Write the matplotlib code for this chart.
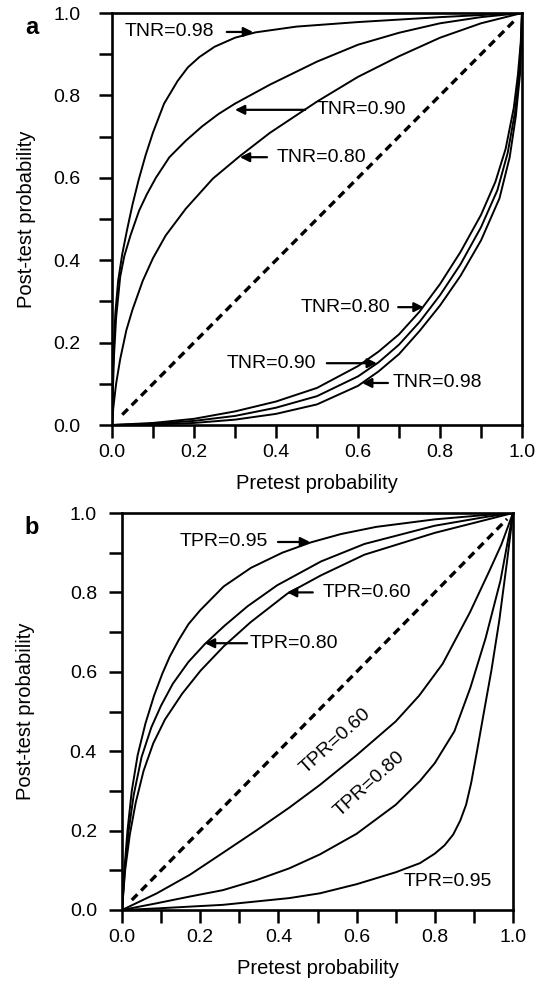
import matplotlib.pyplot as plt
import numpy as np

plt.rcParams['font.family'] = ['Liberation Sans', 'DejaVu Sans']

# ---- panel a : post-test probability for several TNR values ----
a_labels = ["TNR=0.98", "TNR=0.90", "TNR=0.80"]

# positive test (above the diagonal)
a_pos98_x = [0, 0.003, 0.008, 0.015, 0.025, 0.037, 0.05, 0.065, 0.082, 0.1, 0.127, 0.16, 0.185, 0.213, 0.25, 0.3, 0.35, 0.45, 0.6, 0.8, 1.0]
a_pos98_y = [0, 0.15, 0.27, 0.35, 0.415, 0.475, 0.535, 0.595, 0.655, 0.71, 0.78, 0.835, 0.868, 0.893, 0.918, 0.94, 0.953, 0.967, 0.978, 0.99, 1.0]
a_pos90_x = [0, 0.002, 0.005, 0.01, 0.02, 0.03, 0.045, 0.066, 0.085, 0.107, 0.14, 0.18, 0.22, 0.26, 0.3, 0.385, 0.5, 0.6, 0.7, 0.8, 0.9, 1.0]
a_pos90_y = [0, 0.08, 0.17, 0.26, 0.36, 0.41, 0.46, 0.52, 0.56, 0.60, 0.65, 0.69, 0.725, 0.755, 0.78, 0.826, 0.882, 0.923, 0.952, 0.975, 0.99, 1.0]
a_pos80_x = [0, 0.003, 0.01, 0.02, 0.035, 0.05, 0.075, 0.1, 0.131, 0.18, 0.246, 0.311, 0.385, 0.5, 0.6, 0.7, 0.8, 0.9, 1.0]
a_pos80_y = [0, 0.04, 0.10, 0.16, 0.23, 0.28, 0.35, 0.405, 0.46, 0.525, 0.598, 0.652, 0.709, 0.785, 0.845, 0.895, 0.94, 0.975, 1.0]

# negative test (below the diagonal)
a_neg80_x = [0, 0.1, 0.2, 0.3, 0.4, 0.5, 0.6, 0.65, 0.7, 0.75, 0.8, 0.85, 0.9, 0.935, 0.96, 0.98, 0.99, 0.997, 1.0]
a_neg80_y = [0, 0.005, 0.015, 0.033, 0.057, 0.09, 0.143, 0.178, 0.22, 0.275, 0.342, 0.42, 0.51, 0.59, 0.67, 0.77, 0.85, 0.93, 1.0]
a_neg90_x = [0, 0.1, 0.2, 0.3, 0.4, 0.5, 0.6, 0.65, 0.7, 0.75, 0.8, 0.85, 0.9, 0.94, 0.965, 0.983, 0.993, 0.998, 1.0]
a_neg90_y = [0, 0.003, 0.01, 0.022, 0.042, 0.07, 0.118, 0.152, 0.195, 0.25, 0.315, 0.39, 0.48, 0.57, 0.66, 0.76, 0.85, 0.93, 1.0]
a_neg98_x = [0, 0.1, 0.2, 0.3, 0.4, 0.5, 0.6, 0.65, 0.7, 0.75, 0.8, 0.85, 0.9, 0.945, 0.97, 0.985, 0.995, 1.0]
a_neg98_y = [0, 0.001, 0.005, 0.013, 0.027, 0.05, 0.095, 0.13, 0.172, 0.228, 0.29, 0.362, 0.448, 0.55, 0.65, 0.75, 0.85, 1.0]

# ---- panel b : post-test probability for several TPR values ----
b_labels = ["TPR=0.95", "TPR=0.80", "TPR=0.60"]

b_pos95_x = [0, 0.006, 0.014, 0.025, 0.04, 0.06, 0.082, 0.103, 0.122, 0.145, 0.17, 0.2, 0.26, 0.33, 0.41, 0.483, 0.56, 0.65, 0.8, 0.93, 1.0]
b_pos95_y = [0, 0.10, 0.20, 0.30, 0.39, 0.47, 0.54, 0.595, 0.638, 0.68, 0.72, 0.755, 0.815, 0.862, 0.90, 0.926, 0.947, 0.965, 0.984, 0.995, 1.0]
b_pos80_x = [0, 0.007, 0.017, 0.03, 0.05, 0.075, 0.1, 0.13, 0.17, 0.212, 0.261, 0.321, 0.397, 0.509, 0.62, 0.8, 0.93, 1.0]
b_pos80_y = [0, 0.10, 0.20, 0.29, 0.385, 0.46, 0.515, 0.57, 0.625, 0.67, 0.715, 0.765, 0.818, 0.878, 0.922, 0.968, 0.99, 1.0]
b_pos60_x = [0, 0.008, 0.02, 0.035, 0.055, 0.08, 0.11, 0.154, 0.201, 0.261, 0.329, 0.423, 0.509, 0.62, 0.8, 0.92, 1.0]
b_pos60_y = [0, 0.10, 0.19, 0.27, 0.35, 0.42, 0.48, 0.545, 0.603, 0.665, 0.725, 0.797, 0.843, 0.895, 0.95, 0.98, 1.0]

b_neg60_x = [0, 0.089, 0.174, 0.258, 0.343, 0.428, 0.506, 0.6, 0.7, 0.76, 0.82, 0.89, 0.94, 0.97, 1.0]
b_neg60_y = [0, 0.042, 0.089, 0.144, 0.20, 0.258, 0.315, 0.39, 0.475, 0.54, 0.62, 0.75, 0.855, 0.92, 1.0]
b_neg80_x = [0, 0.089, 0.174, 0.258, 0.343, 0.428, 0.506, 0.6, 0.7, 0.762, 0.8, 0.85, 0.891, 0.93, 0.968, 1.0]
b_neg80_y = [0, 0.017, 0.034, 0.05, 0.075, 0.105, 0.14, 0.192, 0.265, 0.325, 0.37, 0.45, 0.56, 0.685, 0.83, 1.0]
b_neg95_x = [0, 0.089, 0.258, 0.428, 0.506, 0.6, 0.7, 0.762, 0.8, 0.825, 0.847, 0.865, 0.88, 0.893, 0.907, 0.925, 0.945, 0.965, 0.985, 1.0]
b_neg95_y = [0, 0.004, 0.013, 0.03, 0.042, 0.065, 0.095, 0.118, 0.142, 0.163, 0.19, 0.225, 0.265, 0.32, 0.395, 0.495, 0.605, 0.73, 0.88, 1.0]

ticks = np.round(np.arange(0, 1.01, 0.1), 1)
tick_labels = ["%.1f" % t if i % 2 == 0 else "" for i, t in enumerate(ticks)]

fig = plt.figure(figsize=(5.37, 9.85), dpi=100)
W, H = 537.0, 985.0
ax_a = fig.add_axes([112 / W, 1 - 425 / H, 410 / W, 412 / H])
ax_b = fig.add_axes([122 / W, 1 - 910 / H, 391 / W, 397 / H])

LW = 1.4
FS = 14


def style(ax, ypad, xlab_y, ylab_x):
    ax.set_xlim(0, 1)
    ax.set_ylim(0, 1)
    ax.set_xticks(ticks)
    ax.set_yticks(ticks)
    ax.set_xticklabels(tick_labels)
    ax.set_yticklabels(tick_labels)
    ax.tick_params(direction='out', length=9.5, width=1.8, labelsize=FS)
    ax.tick_params(axis='x', pad=4)
    ax.tick_params(axis='y', pad=ypad)
    for s in ax.spines.values():
        s.set_linewidth(1.9)
    ax.set_xlabel("Pretest probability", fontsize=14.5)
    ax.set_ylabel("Post-test probability", fontsize=14.5)
    ax.xaxis.set_label_coords(0.5, xlab_y)
    ax.yaxis.set_label_coords(ylab_x, 0.5)
    ax.plot([0.025, 0.985], [0.025, 0.985], color='black', lw=2.4, linestyle=(0, (2.4, 1.6)))


def arrow(ax, tail, head):
    ax.annotate('', xy=head, xytext=tail,
                arrowprops=dict(arrowstyle='-|>', color='black', lw=1.6,
                                mutation_scale=14, shrinkA=0, shrinkB=0))


# panel a
style(ax_a, 13, -0.119, -0.186)
for xs, ys in [(a_pos98_x, a_pos98_y), (a_pos90_x, a_pos90_y), (a_pos80_x, a_pos80_y),
               (a_neg80_x, a_neg80_y), (a_neg90_x, a_neg90_y), (a_neg98_x, a_neg98_y)]:
    ax_a.plot(xs, ys, color='black', lw=LW, solid_joinstyle='round')

ax_a.text(0.032, 0.954, a_labels[0], fontsize=FS, va='center', ha='left')
arrow(ax_a, (0.28, 0.954), (0.344, 0.954))
ax_a.text(0.50, 0.765, a_labels[1], fontsize=FS, va='center', ha='left')
arrow(ax_a, (0.471, 0.765), (0.30, 0.765))
ax_a.text(0.402, 0.65, a_labels[2], fontsize=FS, va='center', ha='left')
arrow(ax_a, (0.378, 0.65), (0.312, 0.65))
ax_a.text(0.459, 0.286, a_labels[2], fontsize=FS, va='center', ha='left')
arrow(ax_a, (0.698, 0.286), (0.76, 0.286))
ax_a.text(0.28, 0.15, a_labels[1], fontsize=FS, va='center', ha='left')
arrow(ax_a, (0.524, 0.15), (0.646, 0.15))
ax_a.text(0.685, 0.102, a_labels[0], fontsize=FS, va='center', ha='left')
arrow(ax_a, (0.673, 0.102), (0.61, 0.102))

# panel b
style(ax_b, 8.5, -0.123, -0.223)
for xs, ys in [(b_pos95_x, b_pos95_y), (b_pos80_x, b_pos80_y), (b_pos60_x, b_pos60_y),
               (b_neg60_x, b_neg60_y), (b_neg80_x, b_neg80_y), (b_neg95_x, b_neg95_y)]:
    ax_b.plot(xs, ys, color='black', lw=LW, solid_joinstyle='round')

ax_b.text(0.148, 0.927, b_labels[0], fontsize=FS, va='center', ha='left')
arrow(ax_b, (0.399, 0.927), (0.481, 0.927))
ax_b.text(0.512, 0.80, b_labels[2], fontsize=FS, va='center', ha='left')
arrow(ax_b, (0.488, 0.80), (0.422, 0.80))
ax_b.text(0.327, 0.672, b_labels[1], fontsize=FS, va='center', ha='left')
arrow(ax_b, (0.32, 0.672), (0.212, 0.672))
ax_b.text(0.546, 0.425, b_labels[2], fontsize=FS, va='center', ha='center', rotation=42)
ax_b.text(0.634, 0.318, b_labels[1], fontsize=FS, va='center', ha='center', rotation=42)
ax_b.text(0.719, 0.073, b_labels[0], fontsize=FS, va='center', ha='left')

fig.text(32 / W, 1 - 27 / H, "a", fontsize=17, fontweight='bold', ha='center', va='center')
fig.text(32 / W, 1 - 527 / H, "b", fontsize=17, fontweight='bold', ha='center', va='center')

fig.savefig("out.png", dpi=100)
